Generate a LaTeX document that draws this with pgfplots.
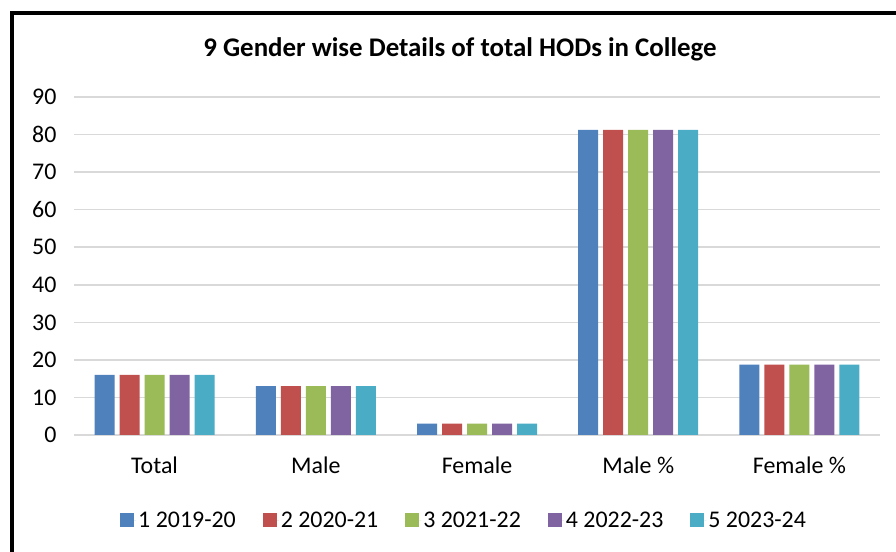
\documentclass[border=0pt]{standalone}
\usepackage{pgfplots}
\pgfplotsset{compat=1.18}
\usepackage{fontspec}
\setmainfont{Carlito}
\definecolor{c1}{HTML}{4F81BD}
\definecolor{c2}{HTML}{C0504D}
\definecolor{c3}{HTML}{9BBB59}
\definecolor{c4}{HTML}{8064A2}
\definecolor{c5}{HTML}{4BACC6}
\definecolor{gridc}{HTML}{D9D9D9}
\begin{document}
\begin{tikzpicture}
\useasboundingbox (0,0) rectangle (896bp,552bp);
\fill[white] (0,0) rectangle (896bp,552bp);
\begin{axis}[
  at={(74bp,117bp)}, anchor=south west,
  scale only axis, width=806bp, height=338bp,
  xmin=-0.5, xmax=4.5, ymin=0, ymax=90,
  ytick={0,10,...,90},
  xtick={0,1,2,3,4},
  xticklabels={Total,Male,Female,Male \%,Female \%},
  ybar=5bp, bar width=20bp,
  axis line style={draw=none},
  major tick length=0pt,
  ymajorgrids, grid style={draw=gridc, line width=1.5bp},
  tick label style={font=\fontsize{24}{28}\selectfont},
  /pgf/number format/assume math mode=true,
  xticklabel style={yshift=-18bp},
  yticklabel style={xshift=-14bp},
  legend columns=5,
  legend style={draw=none, fill=none, font=\fontsize{24}{28}\selectfont,
    at={(0.484,-0.2515)}, anchor=center,
    /tikz/every even column/.append style={column sep=25bp}},
  legend image code/.code={\fill[#1] (0bp,-7bp) rectangle (14bp,7bp); \path (0bp,0bp) -- (16bp,0bp);},
]
\addplot[fill=c1, draw=none] coordinates {(0,16) (1,13) (2,3) (3,81.25) (4,18.75)};
\addplot[fill=c2, draw=none] coordinates {(0,16) (1,13) (2,3) (3,81.25) (4,18.75)};
\addplot[fill=c3, draw=none] coordinates {(0,16) (1,13) (2,3) (3,81.25) (4,18.75)};
\addplot[fill=c4, draw=none] coordinates {(0,16) (1,13) (2,3) (3,81.25) (4,18.75)};
\addplot[fill=c5, draw=none] coordinates {(0,16) (1,13) (2,3) (3,81.25) (4,18.75)};
\legend{1 2019-20, 2 2020-21, 3 2021-22, 4 2022-23, 5 2023-24}
\end{axis}
\node[font=\fontsize{27}{32}\selectfont\bfseries] at (460bp,503bp) {9 Gender wise Details of total HODs in College};
\draw[line width=3.5bp] (11.75bp,0) -- (11.75bp,539bp) -- (896bp,539bp);
\end{tikzpicture}
\end{document}
